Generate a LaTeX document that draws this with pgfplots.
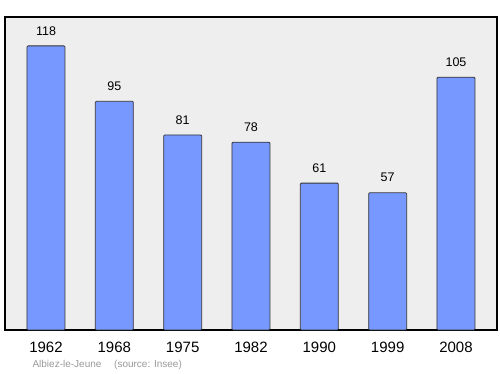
\documentclass[border=0pt]{standalone}
\usepackage{fontspec}
\setmainfont{Liberation Sans}
\usepackage{pgfplots}
\pgfplotsset{compat=1.18}
\definecolor{barblue}{HTML}{7799FF}
\definecolor{bggray}{HTML}{EEEEEE}
\begin{document}
\begin{tikzpicture}[x=1pt,y=1pt]
\useasboundingbox (-5,-44) rectangle (495,330);
\begin{axis}[
  at={(0,0)}, anchor=south west,
  scale only axis, width=492pt, height=313pt,
  xmin=-0.6, xmax=6.6, ymin=0, ymax=130,
  axis background/.style={fill=bggray},
  axis line style={line width=1.3pt, black},
  xtick={0,1,2,3,4,5,6},
  xticklabels={1962,1968,1975,1982,1990,1999,2008},
  ytick=\empty,
  major tick length=0pt,
  xticklabel style={font=\fontsize{15}{17}\selectfont, yshift=-8pt},
  /pgf/number format/assume math mode=true,
  clip=false,
]
\addplot[ybar, bar width=38pt, fill=barblue, draw=black!80, line width=0.8pt, rounded corners=1pt,
  nodes near coords, every node near coord/.append style={font=\fontsize{12.5}{14}\selectfont, black, yshift=7pt}]
  coordinates {(0,118) (1,95) (2,81) (3,78) (4,61) (5,57) (6,105)};
\end{axis}
\node[anchor=west, text=black!40, font=\fontsize{10}{12}\selectfont] at (24,-35) {Albiez-le-Jeune\quad\ (source: Insee)};
\end{tikzpicture}
\end{document}
